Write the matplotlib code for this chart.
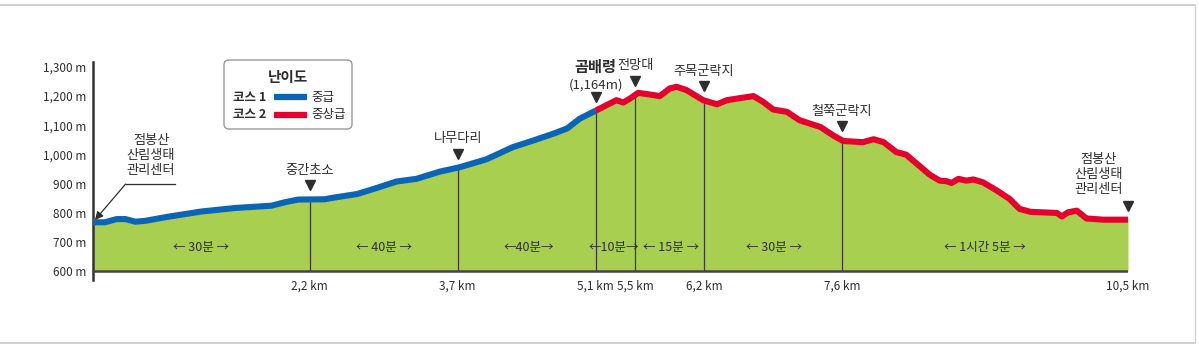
import numpy as np
import matplotlib
matplotlib.use("Agg")
import matplotlib.pyplot as plt
from matplotlib.patches import FancyBboxPatch

plt.rcParams['font.family'] = ['Noto Sans CJK KR', 'DejaVu Sans']

# elevation profile (km, m)
dist_km = [0.00, 0.12, 0.24, 0.33, 0.43, 0.53, 0.76, 1.10, 1.44, 1.81, 1.95, 2.08,
           2.35, 2.43, 2.68, 2.88, 3.08, 3.28, 3.52, 3.72, 3.99, 4.26, 4.47, 4.67,
           4.81, 4.94, 5.10, 5.21, 5.31, 5.38, 5.45, 5.53, 5.62, 5.75, 5.85, 5.92,
           6.02, 6.19, 6.33, 6.43, 6.60, 6.70, 6.80, 6.90, 7.04, 7.17, 7.38, 7.51,
           7.61, 7.81, 7.92, 8.02, 8.15, 8.25, 8.49, 8.59, 8.66, 8.71, 8.78, 8.86,
           8.93, 9.03, 9.17, 9.30, 9.40, 9.51, 9.78, 9.83, 9.89, 9.98, 10.08, 10.25,
           10.50]
elev_m = [767, 767, 778, 778, 769, 772, 786, 804, 816, 824, 836, 845,
          846, 851, 864, 885, 907, 916, 941, 956, 983, 1025, 1048, 1071,
          1089, 1123, 1150, 1169, 1186, 1178, 1192, 1211, 1207, 1200, 1226, 1232,
          1221, 1186, 1172, 1186, 1195, 1200, 1180, 1154, 1146, 1117, 1094, 1065,
          1046, 1042, 1052, 1042, 1008, 999, 930, 910, 908, 902, 916, 910,
          914, 904, 876, 847, 813, 803, 799, 787, 801, 807, 780, 776,
          776]

split_km = 5.1

y_ticks = [600, 700, 800, 900, 1000, 1100, 1200, 1300]
y_labels = ['600 m', '700 m', '800 m', '900 m', '1,000 m', '1,100 m', '1,200 m', '1,300 m']

# waypoints along the trail
wp_km = [2.2, 3.7, 5.1, 5.5, 6.2, 7.6]
wp_km_labels = ['2,2 km', '3,7 km', '5,1 km', '5,5 km', '6,2 km', '7,6 km']
wp_names = ['중간초소', '나무다리', None, '전망대', '주목군락지', '철쭉군락지']
end_km_label = '10,5 km'

seg_times = ['← 30분 →', '← 40분 →', '←40분→', '←10분→', '← 15분 →', '← 30분 →', '← 1시간 5분 →']
seg_pos = [1.1, 2.95, 4.42, 5.28, 5.86, 6.91, 9.05]

green = '#a8cf50'
blue = '#0a65b6'
red = '#e6002e'
ink = '#2e2e2e'

fig = plt.figure(figsize=(11.99, 3.44), dpi=100)
ax = fig.add_axes([0.07756, 0.18605, 0.8632, 0.6337])
ax.set_xlim(0, 10.5)
ax.set_ylim(569, 1317)

x = np.array(dist_km)
y = np.array(elev_m)

ax.fill_between(x, 600, y, color=green, lw=0, zorder=1)

i = dist_km.index(split_km)
ax.plot(x[:i + 1], y[:i + 1], color=blue, lw=4.4, solid_capstyle='butt',
        solid_joinstyle='round', zorder=4)
ax.plot(x[i:], y[i:], color=red, lw=4.4, solid_capstyle='butt',
        solid_joinstyle='round', zorder=4)

# baseline
ax.plot([0, 10.5], [600, 600], color='#444444', lw=1.8, zorder=5, solid_capstyle='butt')

# waypoint lines, markers, labels
for k, lab in zip(wp_km, wp_km_labels):
    top = np.interp(k, x, y)
    ax.plot([k, k], [600, top], color='#3a3a3a', lw=0.9, zorder=3)
    ax.text(k, 548, lab, ha='center', va='center', fontsize=8.5, color=ink)
ax.text(10.5, 548, end_km_label, ha='center', va='center', fontsize=8.5, color=ink)

for k in wp_km + [10.5]:
    top = np.interp(k, x, y)
    ax.plot(k, top + 48, marker='v', color=ink, ms=7, zorder=6, clip_on=False)

for k, name in zip(wp_km, wp_names):
    if name is None:
        continue
    top = np.interp(k, x, y)
    ax.text(k, top + 100, name, ha='center', va='center', fontsize=9.5, color=ink)

ax.text(5.1, 1300, '곰배령', ha='center', va='center', fontsize=11,
        fontweight='bold', color=ink, clip_on=False)
ax.text(5.1, 1238, '(1,164m)', ha='center', va='center', fontsize=9.5, color=ink)

# end labels
ax.text(10.2, 930, '점봉산\n산림생태\n관리센터', ha='center', va='center',
        fontsize=9.5, color=ink, linespacing=1.2)
ax.text(0.59, 995, '점봉산\n산림생태\n관리센터', ha='center', va='center',
        fontsize=9.5, color=ink, linespacing=1.2)
ax.annotate('', xy=(0.02, 775), xytext=(0.33, 898),
            arrowprops=dict(arrowstyle='-|>', color=ink, lw=0.9,
                            mutation_scale=12, shrinkA=0, shrinkB=0), zorder=7)
ax.plot([0.33, 0.83], [898, 898], color=ink, lw=0.9)

for t, p in zip(seg_times, seg_pos):
    ax.text(p, 680, t, ha='center', va='center', fontsize=9, color=ink, zorder=6)

# axes styling
for s in ['top', 'right', 'bottom']:
    ax.spines[s].set_visible(False)
ax.spines['left'].set_color('#333333')
ax.spines['left'].set_linewidth(1.8)
ax.set_yticks(y_ticks)
ax.set_yticklabels(y_labels, fontsize=8.5, color=ink)
ax.tick_params(axis='y', length=0, pad=5)
ax.set_xticks([])

# legend box
box = FancyBboxPatch((224, 215), 128, 69, boxstyle='round,pad=0,rounding_size=5',
                     transform=None, facecolor='white', edgecolor='#9a9a9a', lw=1.0)
fig.patches.append(box)
H = 344
fig.text(288 / 1199, 1 - 77 / H, '난이도', ha='center', va='center', fontsize=10.5,
         fontweight='bold', color=ink)
leg_names = ['코스 1', '코스 2']
leg_levels = ['중급', '중상급']
leg_colors = [blue, red]
for r, (nm, lv, c) in enumerate(zip(leg_names, leg_levels, leg_colors)):
    yy = 1 - (97.5 + r * 17.5) / H
    fig.text(250 / 1199, yy, nm, ha='center', va='center', fontsize=9,
             fontweight='bold', color=ink)
    fig.add_artist(plt.Line2D([274 / 1199, 307 / 1199], [yy, yy], color=c, lw=4.5,
                              solid_capstyle='butt', transform=fig.transFigure))
    fig.text(311 / 1199, yy, lv, ha='left', va='center', fontsize=9, color=ink)

# outer frame
frame = '#d2d2d2'
fig.add_artist(plt.Line2D([0, 1195 / 1199], [1 - 5 / H, 1 - 5 / H], color=frame, lw=1.5))
fig.add_artist(plt.Line2D([1195 / 1199, 1195 / 1199], [1 - 5 / H, 1 - 343 / H], color=frame, lw=1.0))
fig.add_artist(plt.Line2D([0, 1195 / 1199], [1 - 343 / H, 1 - 343 / H], color=frame, lw=1.5))

fig.savefig('out.png', dpi=100)
